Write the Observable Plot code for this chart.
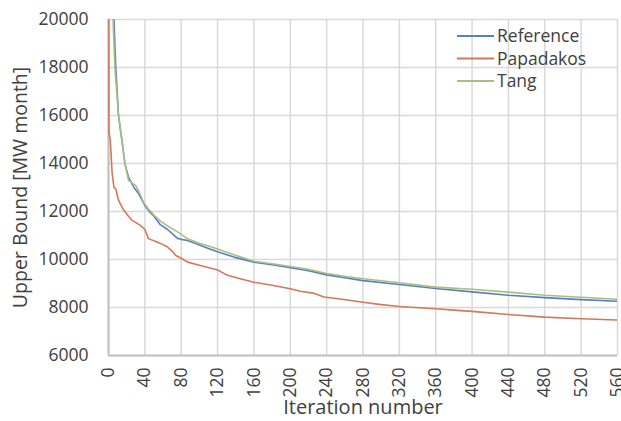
<!DOCTYPE html>
<html>
<head>
<meta charset="utf-8">
<script src="https://cdn.jsdelivr.net/npm/d3@7"></script>
<script src="https://cdn.jsdelivr.net/npm/@observablehq/plot@0.6"></script>
<style>
  html, body { margin: 0; padding: 0; background: #fff; }
  #chart { width: 621px; height: 421px; }
</style>
</head>
<body>
<div id="chart"></div>
<script>
// Series names and colours
const seriesNames = ["Reference", "Papadakos", "Tang"];
const seriesColors = ["#5a7fbf", "#d5775a", "#a8bf84"];

// Iteration numbers and upper bound values
const referenceIter = [6, 8, 11, 15, 18, 22, 28, 33, 37, 40, 46, 50, 57, 65, 76, 80, 87, 100, 110, 120, 138, 160, 180, 200, 220, 240, 260, 280, 320, 360, 400, 440, 480, 520, 560];
const referenceUB = [20000, 18000, 16000, 14900, 14000, 13430, 13000, 12750, 12460, 12250, 11950, 11800, 11450, 11250, 10880, 10840, 10790, 10600, 10460, 10320, 10100, 9890, 9780, 9660, 9530, 9360, 9240, 9120, 8960, 8790, 8650, 8510, 8410, 8330, 8260];

const papadakosIter = [0.3, 0.5, 2, 4, 6, 8, 11, 17, 22, 26, 35, 40, 44, 52, 60, 65, 70, 74, 80, 87, 100, 120, 131, 145, 160, 180, 200, 211, 225, 237, 261, 280, 300, 320, 360, 380, 400, 440, 480, 520, 560];
const papadakosUB = [20000, 15300, 14960, 13600, 13000, 12950, 12460, 12040, 11800, 11630, 11420, 11250, 10870, 10750, 10620, 10520, 10350, 10170, 10050, 9890, 9760, 9560, 9340, 9200, 9050, 8930, 8780, 8680, 8600, 8440, 8320, 8220, 8120, 8040, 7945, 7890, 7840, 7710, 7600, 7530, 7480];

const tangIter = [5, 7, 11, 15, 18, 22, 30, 35, 39, 44, 50, 57, 65, 79, 87, 100, 110, 120, 138, 160, 180, 200, 220, 240, 260, 280, 320, 360, 400, 440, 480, 520, 560];
const tangUB = [20000, 18000, 16000, 14900, 14000, 13300, 13080, 12700, 12350, 12100, 11850, 11600, 11400, 11080, 10860, 10680, 10560, 10440, 10200, 9930, 9820, 9710, 9590, 9420, 9300, 9200, 9030, 8850, 8760, 8640, 8510, 8430, 8340];

// Axis ticks
const xTicks = d3.range(0, 561, 40);
const yTicks = d3.range(6000, 20001, 2000);

const seriesIter = [referenceIter, papadakosIter, tangIter];
const seriesUB = [referenceUB, papadakosUB, tangUB];
const data = seriesNames.flatMap((name, k) =>
  seriesIter[k].map((it, j) => ({series: name, iter: it, ub: seriesUB[k][j]})));

const font = "'Open Sans', 'Noto Sans', sans-serif";

const plot = Plot.plot({
  width: 621,
  height: 421,
  marginLeft: 108,
  marginRight: 4,
  marginTop: 19,
  marginBottom: 66,
  style: {fontFamily: font, background: "#fff", color: "#404040"},
  x: {domain: [0, 560], ticks: xTicks},
  y: {domain: [6000, 20000], ticks: yTicks},
  color: {domain: seriesNames, range: seriesColors},
  marks: [
    Plot.gridX(xTicks, {stroke: "#d9d9d9", strokeOpacity: 1, strokeWidth: 1.5}),
    Plot.gridY(yTicks, {stroke: "#d9d9d9", strokeOpacity: 1, strokeWidth: 1.5}),
    Plot.axisY(yTicks, {tickSize: 0, tickPadding: 20, fontSize: 17.5, fill: "#404040", label: null, tickFormat: d => String(d)}),
    Plot.axisX(xTicks, {tickSize: 0, tickPadding: 12, tickRotate: -90, fontSize: 17.5, fill: "#404040", label: null, tickFormat: d => String(d)}),
    Plot.ruleX([0], {stroke: "#bfbfbf", strokeWidth: 2}),
    Plot.ruleY([6000], {stroke: "#bfbfbf", strokeWidth: 2}),
    Plot.line(data, {x: "iter", y: "ub", z: "series", stroke: "series", strokeWidth: 1.6, clip: true}),
    Plot.text(["Iteration number"], {frameAnchor: "bottom", dy: 58, fontSize: 20, fill: "#404040"}),
    Plot.text(["Upper Bound [MW month]"], {frameAnchor: "left", dx: -88, rotate: -90, textAnchor: "middle", fontSize: 19.5, fill: "#404040"})
  ]
});

// Legend inside the plot area
const svg = d3.select(plot);
const legendRows = svg.append("g").attr("font-family", font).attr("font-size", 17.5)
  .attr("fill", "#404040").attr("text-anchor", "start");
seriesNames.forEach((name, k) => {
  const y = 36 + k * 22.5;
  legendRows.append("line").attr("x1", 457).attr("x2", 494).attr("y1", y).attr("y2", y)
    .attr("stroke", seriesColors[k]).attr("stroke-width", 2);
  legendRows.append("text").attr("x", 497).attr("y", y).attr("dy", "0.35em").text(name);
});

document.getElementById("chart").appendChild(plot);
</script>
</body>
</html>
